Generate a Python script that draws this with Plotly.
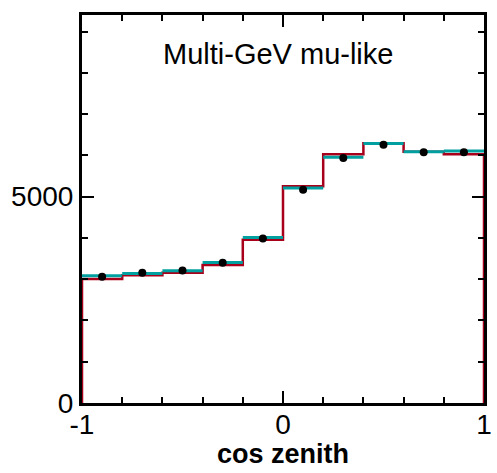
import plotly.graph_objects as go

# cos(zenith) binning: 10 bins from -1 to 1
bin_edges = [-1.0, -0.8, -0.6, -0.4, -0.2, 0.0, 0.2, 0.4, 0.6, 0.8, 1.0]

# Observed events (black points, at bin centres)
data_counts = [3056, 3153, 3208, 3395, 3983, 5169, 5937, 6259, 6077, 6077]

# Prediction, red histogram
pred_red = [3002, 3092, 3153, 3341, 3954, 5254, 6024, 6295, 6090, 6024]

# Prediction, teal histogram
pred_teal = [3080, 3140, 3201, 3402, 4007, 5211, 5956, 6288, 6090, 6107]

x_tickvals = [-1, 0, 1]
x_ticktext = ["-1", "0", "1"]
y_tickvals = [0, 5000]
y_ticktext = ["0", "5000"]

FONT = "Arial, 'Liberation Sans', sans-serif"
RED = "#a8001a"
TEAL = "#00a0a0"

centers = [(a + b) / 2 for a, b in zip(bin_edges[:-1], bin_edges[1:])]

# Red histogram as a step outline starting from zero at the left edge
red_x = [bin_edges[0]] + bin_edges[:-1] + [bin_edges[-1], bin_edges[-1]]
red_y = [0] + pred_red + [pred_red[-1], 0]

# Teal histogram drawn as flat bin tops only
teal_x, teal_y = [], []
for lo, hi, v in zip(bin_edges[:-1], bin_edges[1:], pred_teal):
    teal_x += [lo, hi, None]
    teal_y += [v, v, None]

fig = go.Figure()
fig.add_trace(go.Scatter(x=red_x, y=red_y, mode="lines",
                         line=dict(color=RED, width=2.5, shape="hv"),
                         showlegend=False, hoverinfo="skip"))
fig.add_trace(go.Scatter(x=teal_x, y=teal_y, mode="lines",
                         line=dict(color=TEAL, width=3),
                         showlegend=False, hoverinfo="skip"))
fig.add_trace(go.Scatter(x=centers, y=data_counts, mode="markers",
                         marker=dict(color="black", size=8),
                         showlegend=False))

fig.add_annotation(text="Multi-GeV mu-like", xref="paper", yref="paper",
                   x=0.487, y=0.9, xanchor="center", yanchor="middle",
                   showarrow=False, font=dict(family=FONT, size=29, color="black"))

# x-axis title placed just above the bottom edge of the page
fig.add_annotation(text="<b>cos zenith</b>", xref="paper", yref="paper",
                   x=0.5, y=0, yshift=-68, xanchor="center", yanchor="bottom",
                   showarrow=False, font=dict(family=FONT, size=27, color="black"))

fig.update_layout(
    width=497, height=473,
    margin=dict(l=82, r=5, t=15, b=70),
    paper_bgcolor="white", plot_bgcolor="white",
    font=dict(family=FONT, size=28, color="black"),
    xaxis=dict(
        range=[-1, 1], tickvals=x_tickvals, ticktext=x_ticktext,
        ticks="inside", ticklen=12, tickwidth=1.5, tickcolor="black",
        ticklabelstandoff=-6,
        minor=dict(dtick=0.2, tick0=-1, ticks="inside", ticklen=6,
                   tickwidth=1.5, tickcolor="black", showgrid=False),
        showline=True, linewidth=3, linecolor="black", mirror="ticks",
        showgrid=False, zeroline=False,
    ),
    yaxis=dict(
        range=[0, 9400], tickvals=y_tickvals, ticktext=y_ticktext,
        ticks="inside", ticklen=12, tickwidth=1.5, tickcolor="black",
        minor=dict(dtick=1000, tick0=0, ticks="inside", ticklen=6,
                   tickwidth=1.5, tickcolor="black", showgrid=False),
        showline=True, linewidth=3, linecolor="black", mirror="ticks",
        showgrid=False, zeroline=False,
    ),
)

fig.write_html("out.html")
